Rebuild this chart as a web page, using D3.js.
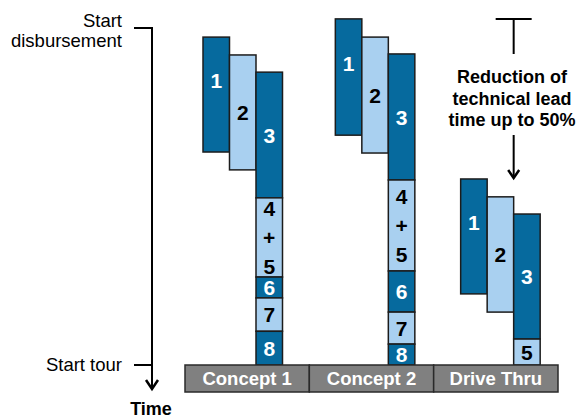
<!DOCTYPE html>
<html>
<head>
<meta charset="utf-8">
<script src="https://cdn.jsdelivr.net/npm/d3@7/dist/d3.min.js"></script>
<style>
  html, body { margin: 0; padding: 0; background: #fff; }
  svg { display: block; font-family: "Liberation Sans", Arial, sans-serif; }
</style>
</head>
<body>
<svg id="chart" width="580" height="419"></svg>
<script>
// Lead time from start of disbursement (0) to start of tour (100)
const categories = ["Concept 1", "Concept 2", "Drive Thru"];

const concept1Phases = ["1", "2", "3", "4+5", "6", "7", "8"];
const concept1Start  = [2.7, 8.0, 13.1, 50.4, 73.9, 80.1, 90.0];
const concept1End    = [36.8, 42.1, 50.4, 73.9, 80.1, 90.0, 100];

const concept2Phases = ["1", "2", "3", "4+5", "6", "7", "8"];
const concept2Start  = [-2.7, 2.7, 7.7, 45.1, 72.1, 84.3, 93.8];
const concept2End    = [31.8, 37.1, 45.1, 72.1, 84.3, 93.8, 100];

const driveThruPhases = ["1", "2", "3", "5"];
const driveThruStart  = [44.8, 50.1, 55.2, 92.3];
const driveThruEnd    = [78.9, 84.3, 92.3, 100];

const milestones = ["Start\ndisbursement", "Start tour"];
const milestoneValues = [0, 100];
const axisTitle = "Time";
const noteLines = ["Reduction of", "technical lead", "time up to 50%"];

const DARK = "#066A9E", LIGHT = "#A9D0F0", EDGE = "#1c1c1c";
const laneInset = [18, 26, 27];
const laneWidth = 26.5;

const svg = d3.select("#chart");

const y = d3.scaleLinear().domain([0, 100]).range([28, 365]);
const x = d3.scaleBand().domain(categories).range([185, 558]).padding(0);

const groups = [
  { cat: categories[0], phases: concept1Phases, start: concept1Start, end: concept1End },
  { cat: categories[1], phases: concept2Phases, start: concept2Start, end: concept2End },
  { cat: categories[2], phases: driveThruPhases, start: driveThruStart, end: driveThruEnd }
];

const bars = [];
groups.forEach((g, gi) => {
  g.phases.forEach((p, i) => {
    bars.push({
      cat: g.cat, gi, phase: p, i,
      lane: Math.min(i, 2),
      start: g.start[i], end: g.end[i],
      dark: i % 2 === 0
    });
  });
});

const laneX = d => x(d.cat) + laneInset[d.gi] + d.lane * laneWidth;

// Phase bars
const barG = svg.append("g");
barG.selectAll("rect")
  .data(bars)
  .join("rect")
  .attr("x", d => laneX(d))
  .attr("y", d => y(d.start))
  .attr("width", laneWidth)
  .attr("height", d => y(d.end) - y(d.start))
  .attr("fill", d => d.dark ? DARK : LIGHT)
  .attr("stroke", EDGE)
  .attr("stroke-width", 1.5);

// Phase labels
const labelG = svg.append("g")
  .attr("font-weight", "bold")
  .attr("font-size", 21)
  .attr("text-anchor", "middle");

bars.forEach(d => {
  const cx = laneX(d) + laneWidth / 2;
  const top = y(d.start), bot = y(d.end);
  const parts = d.phase.includes("+") ? d.phase.split(/(\+)/) : [d.phase];
  const mid = d.i === 0 ? top + (bot - top) * 0.38 : (top + bot) / 2;
  const step = 29;
  parts.forEach((t, k) => {
    labelG.append("text")
      .attr("x", cx)
      .attr("y", mid + (k - (parts.length - 1) / 2) * step)
      .attr("dy", "0.36em")
      .attr("fill", d.dark ? "#fff" : "#000")
      .text(t);
  });
});

// Category strip
const catG = svg.append("g");
catG.selectAll("rect")
  .data(categories)
  .join("rect")
  .attr("x", d => x(d))
  .attr("y", 365)
  .attr("width", x.bandwidth())
  .attr("height", 27)
  .attr("fill", "#808080")
  .attr("stroke", "#2a2a2a")
  .attr("stroke-width", 1.5);
catG.selectAll("text")
  .data(categories)
  .join("text")
  .attr("x", d => x(d) + x.bandwidth() / 2)
  .attr("y", 384.5)
  .attr("text-anchor", "middle")
  .attr("font-weight", "bold")
  .attr("font-size", 18.5)
  .attr("fill", "#fff")
  .text(d => d);

// Time axis
const axisX = 152;
const axG = svg.append("g").attr("stroke", "#000").attr("stroke-width", 2).attr("fill", "none");
axG.append("line").attr("x1", axisX).attr("x2", axisX).attr("y1", y(0) - 1).attr("y2", 389);
axG.append("path").attr("d", `M${axisX - 6},380 L${axisX},389 L${axisX + 6},380`).attr("stroke-width", 2.5);
milestoneValues.forEach(v => {
  axG.append("line").attr("x1", 134).attr("x2", axisX).attr("y1", y(v)).attr("y2", y(v));
});

const msG = svg.append("g").attr("font-size", 18.5).attr("text-anchor", "end").attr("fill", "#000");
milestones.forEach((m, i) => {
  const lines = m.split("\n");
  const yv = y(milestoneValues[i]);
  // two-line labels straddle the tick, single-line labels sit on it
  const first = lines.length > 1 ? yv - 1 : yv + 6;
  lines.forEach((ln, k) => {
    msG.append("text")
      .attr("x", 122)
      .attr("y", first + k * 20)
      .text(ln);
  });
});

svg.append("text")
  .attr("x", 151)
  .attr("y", 415)
  .attr("text-anchor", "middle")
  .attr("font-weight", "bold")
  .attr("font-size", 18)
  .text(axisTitle);

// Lead-time reduction note
const noteX = x(categories[2]) + laneInset[2] + 2 * laneWidth;
const yFrom = y(d3.min(concept2Start));
const yTo = y(driveThruStart[0]);
const nG = svg.append("g").attr("stroke", "#000").attr("stroke-width", 2).attr("fill", "none");
nG.append("line").attr("x1", noteX - 18).attr("x2", noteX + 18).attr("y1", yFrom).attr("y2", yFrom);
nG.append("line").attr("x1", noteX).attr("x2", noteX).attr("y1", yFrom).attr("y2", 54);
nG.append("line").attr("x1", noteX).attr("x2", noteX).attr("y1", 135).attr("y2", yTo - 1);
nG.append("path").attr("d", `M${noteX - 5.5},${yTo - 9} L${noteX},${yTo - 1} L${noteX + 5.5},${yTo - 9}`).attr("stroke-width", 2.5);

const noteG = svg.append("g")
  .attr("font-weight", "bold")
  .attr("font-size", 18)
  .attr("text-anchor", "middle");
noteLines.forEach((t, k) => {
  noteG.append("text").attr("x", 512).attr("y", 83 + k * 21.5).text(t);
});
</script>
</body>
</html>
